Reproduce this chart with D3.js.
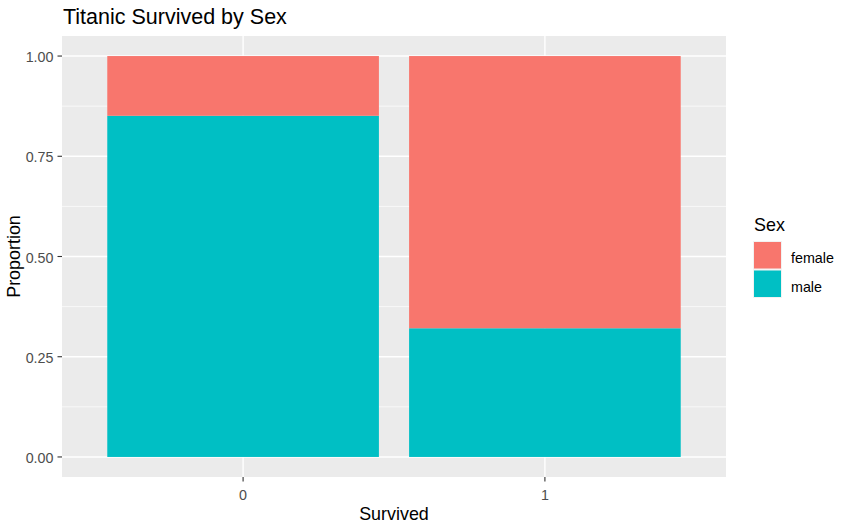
<!DOCTYPE html>
<html>
<head>
<meta charset="utf-8">
<script src="https://cdn.jsdelivr.net/npm/d3@7"></script>
<style>
  html, body { margin: 0; padding: 0; background: #fff; }
  svg { display: block; font-family: "Liberation Sans", Arial, sans-serif; }
</style>
</head>
<body>
<svg id="chart" width="845" height="526"></svg>
<script>
// ---- data ----
const categories = ["0", "1"];
const sexes = ["female", "male"];
const maleProp = [0.851, 0.321];
const femaleProp = [0.149, 0.679];
const yTicks = [0, 0.25, 0.5, 0.75, 1];
const yTickLabels = ["0.00", "0.25", "0.50", "0.75", "1.00"];
const colors = ["#F8766D", "#00BFC4"];
const titleText = "Titanic Survived by Sex";
const xTitle = "Survived";
const yTitle = "Proportion";
const legendTitle = "Sex";

// ---- layout ----
const panel = { left: 62, right: 726, top: 36, bottom: 477 };
const svg = d3.select("#chart");

const x = d3.scaleLinear().domain([0.4, 2.6]).range([panel.left, panel.right]);
const y = d3.scaleLinear().domain([-0.05, 1.05]).range([panel.bottom, panel.top]);
const xPos = i => x(i + 1);
const bw = 0.9 * (x(2) - x(1));

// panel background
svg.append("rect").attr("x", panel.left).attr("y", panel.top)
  .attr("width", panel.right - panel.left).attr("height", panel.bottom - panel.top)
  .attr("fill", "#EBEBEB");

// minor gridlines
const minor = [0.125, 0.375, 0.625, 0.875];
svg.selectAll("line.minor").data(minor).enter().append("line")
  .attr("x1", panel.left).attr("x2", panel.right)
  .attr("y1", d => y(d)).attr("y2", d => y(d))
  .attr("stroke", "#fff").attr("stroke-width", 0.7);
// major gridlines
svg.selectAll("line.majy").data(yTicks).enter().append("line")
  .attr("x1", panel.left).attr("x2", panel.right)
  .attr("y1", d => y(d)).attr("y2", d => y(d))
  .attr("stroke", "#fff").attr("stroke-width", 1.4);
svg.selectAll("line.majx").data(categories).enter().append("line")
  .attr("y1", panel.top).attr("y2", panel.bottom)
  .attr("x1", (d, i) => xPos(i)).attr("x2", (d, i) => xPos(i))
  .attr("stroke", "#fff").attr("stroke-width", 1.4);

// stacked bars
const rows = categories.map((c, i) => ({ cat: c, i, male: maleProp[i], female: femaleProp[i] }));
const stack = d3.stack().keys(["male", "female"])(rows);
const colorOf = { female: colors[0], male: colors[1] };
stack.forEach(layer => {
  svg.selectAll(null).data(layer).enter().append("rect")
    .attr("x", d => xPos(d.data.i) - bw / 2)
    .attr("width", bw)
    .attr("y", d => y(d[1]))
    .attr("height", d => y(d[0]) - y(d[1]))
    .attr("fill", colorOf[layer.key]);
});

// y axis ticks and labels
const axisCol = "#333333", textCol = "#4D4D4D";
yTicks.forEach((t, k) => {
  svg.append("line").attr("x1", panel.left - 4.5).attr("x2", panel.left)
    .attr("y1", y(t)).attr("y2", y(t)).attr("stroke", axisCol).attr("stroke-width", 1.1);
  svg.append("text").attr("x", panel.left - 8.5).attr("y", y(t) + 6)
    .attr("text-anchor", "end").attr("font-size", 14.3).attr("fill", textCol)
    .text(yTickLabels[k]);
});
// x axis ticks and labels
categories.forEach((c, i) => {
  svg.append("line").attr("x1", xPos(i)).attr("x2", xPos(i))
    .attr("y1", panel.bottom).attr("y2", panel.bottom + 4.5)
    .attr("stroke", axisCol).attr("stroke-width", 1.1);
  svg.append("text").attr("x", xPos(i)).attr("y", 499.5)
    .attr("text-anchor", "middle").attr("font-size", 14.3).attr("fill", textCol)
    .text(c);
});

// titles
svg.append("text").attr("x", 63).attr("y", 24).attr("font-size", 21.5)
  .attr("fill", "#000").text(titleText);
svg.append("text").attr("x", (panel.left + panel.right) / 2).attr("y", 520)
  .attr("text-anchor", "middle").attr("font-size", 17.9).attr("fill", "#000").text(xTitle);
svg.append("text")
  .attr("transform", `translate(19.5,${(panel.top + panel.bottom) / 2}) rotate(-90)`)
  .attr("text-anchor", "middle").attr("font-size", 17.9).attr("fill", "#000").text(yTitle);

// legend
const lg = svg.append("g");
lg.append("text").attr("x", 754).attr("y", 230.5).attr("font-size", 17.9)
  .attr("fill", "#000").text(legendTitle);
sexes.forEach((s, k) => {
  const top = 241 + k * 28.5;
  lg.append("rect").attr("x", 753).attr("y", top).attr("width", 29).attr("height", 28.5)
    .attr("fill", "#F2F2F2");
  lg.append("rect").attr("x", 754).attr("y", top + 1).attr("width", 27).attr("height", 26.5)
    .attr("fill", colors[k]);
  lg.append("text").attr("x", 791).attr("y", top + 22.3).attr("font-size", 14.3)
    .attr("fill", "#000").text(s);
});
</script>
</body>
</html>
